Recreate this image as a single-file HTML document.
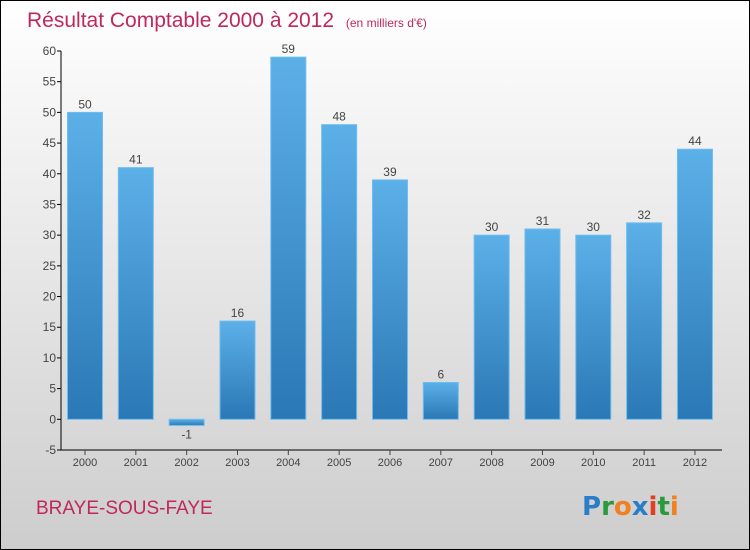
<!DOCTYPE html>
<html><head><meta charset="utf-8"><style>
body{margin:0;width:750px;height:550px;overflow:hidden;font-family:"Liberation Sans",sans-serif}
svg{display:block}
</style></head><body>
<svg id="c" width="750" height="550" xmlns="http://www.w3.org/2000/svg">
<defs>
<linearGradient id="bg" x1="0" y1="0" x2="0" y2="1"><stop offset="0" stop-color="#ffffff"/><stop offset="1" stop-color="#cdcdcd"/></linearGradient>
<linearGradient id="bar" x1="0" y1="0" x2="0" y2="1"><stop offset="0" stop-color="#5cb0e8"/><stop offset="1" stop-color="#2a78b5"/></linearGradient>
</defs>
<rect x="0.5" y="0.5" width="749" height="549" fill="url(#bg)" stroke="#000"/>
<text x="27" y="27" font-size="21" fill="#c0285a">Résultat Comptable 2000 à 2012 <tspan font-size="12" dx="6">(en milliers d'€)</tspan></text>
<g id="plot"></g>
<text x="36" y="514" font-size="19" fill="#c0285a">BRAYE-SOUS-FAYE</text>
<text x="582" y="515" font-size="26" font-weight="bold" font-family="'DejaVu Sans',sans-serif"><tspan fill="#2a7ec8">P</tspan><tspan fill="#2a9a3a">r</tspan><tspan fill="#f08020">o</tspan><tspan fill="#2a7ec8">x</tspan><tspan fill="#e04020">i</tspan><tspan fill="#2a9a3a">t</tspan><tspan fill="#f08020">i</tspan></text>
</svg>
<script>
const years=["2000","2001","2002","2003","2004","2005","2006","2007","2008","2009","2010","2011","2012"];
const values=[50,41,-1,16,59,48,39,6,30,31,30,32,44];
const yTicks=[-5,0,5,10,15,20,25,30,35,40,45,50,55,60];
const NS="http://www.w3.org/2000/svg";
const g=document.getElementById('plot');
const x0=61,x1=722,yTop=51,yBot=450,vMin=-5,vMax=60;
const y=v=>yBot-(v-vMin)*(yBot-yTop)/(vMax-vMin);
const cx=i=>85+i*50.83;
function el(t,a){const e=document.createElementNS(NS,t);for(const k in a)e.setAttribute(k,a[k]);g.appendChild(e);return e;}
let ax=el('line',{x1:x0,y1:yTop,x2:x0,y2:yBot,stroke:'#000'});


let bx=el('line',{x1:x0,y1:yBot,x2:x1,y2:yBot,stroke:'#000'});


yTicks.forEach(v=>{
 el('line',{x1:x0-4,y1:y(v),x2:x0,y2:y(v),stroke:'#000'});
 const t=el('text',{x:x0-5,y:y(v)+4,'font-size':12,fill:'#444','text-anchor':'end'});t.textContent=v;
 
 
});
years.forEach((yr,i)=>{
 el('line',{x1:cx(i),y1:yBot,x2:cx(i),y2:yBot+5,stroke:'#444'});
 const t=el('text',{x:cx(i),y:yBot+16,'font-size':11,fill:'#444','text-anchor':'middle'});t.textContent=yr;
 
 
 const v=values[i];const top=Math.min(y(v),y(0)),h=Math.abs(y(v)-y(0));
 const r=el('rect',{x:cx(i)-17.5,y:top,width:35,height:h,fill:'url(#bar)',stroke:'#6fbcef','stroke-width':1});
 
 
 const l=el('text',{x:cx(i),y:v>=0?y(v)-4:y(v)+13,'font-size':12,fill:'#444','text-anchor':'middle'});l.textContent=v;
 
 
});
</script>
</body></html>
